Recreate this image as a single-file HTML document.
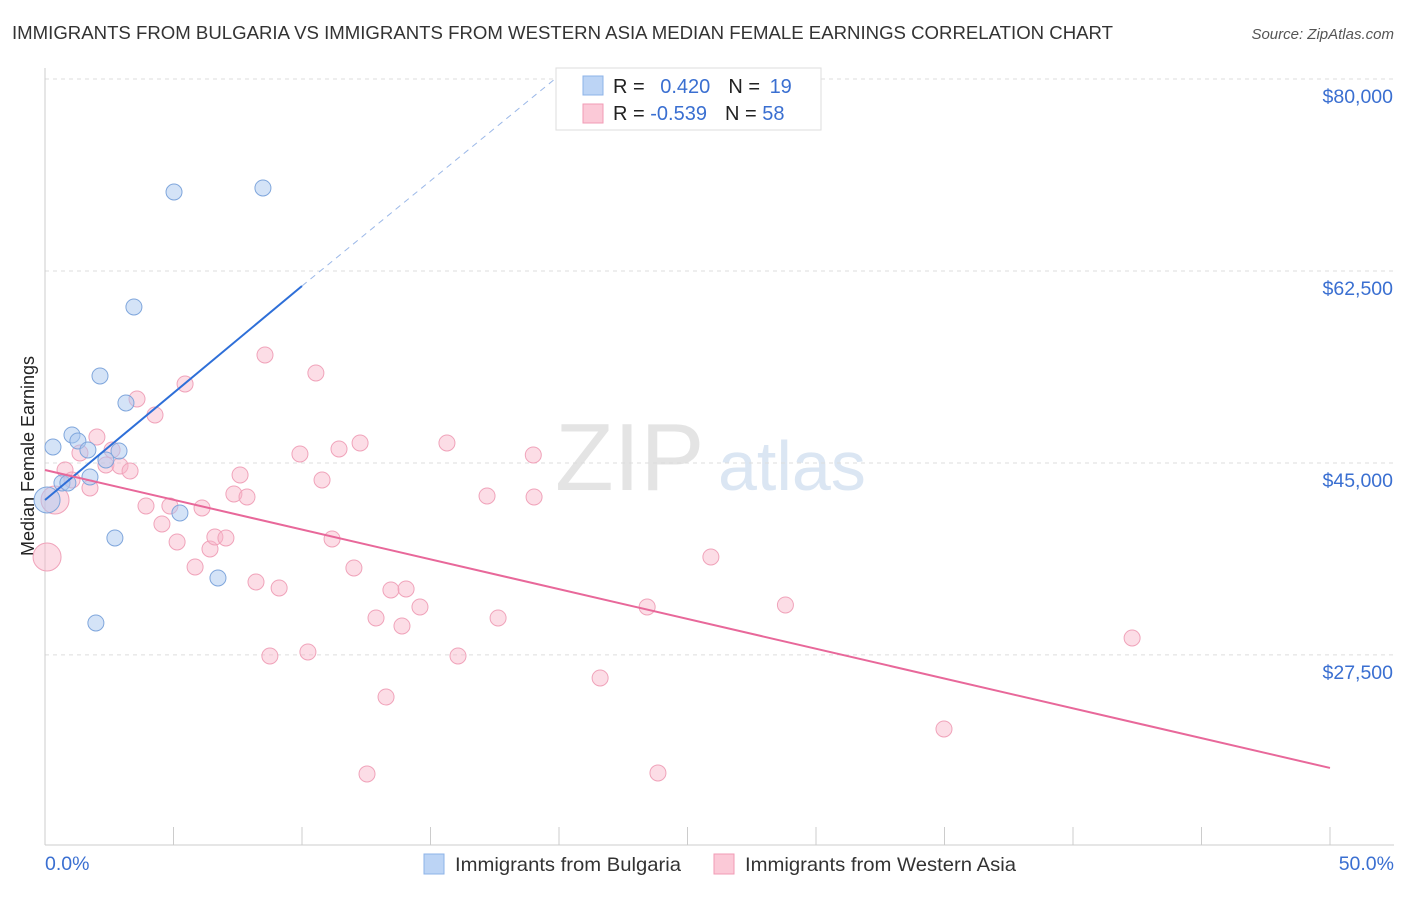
<!DOCTYPE html>
<html><head><meta charset="utf-8"><style>
body{margin:0;background:#fff;font-family:"Liberation Sans",sans-serif;}
svg text{font-family:"Liberation Sans",sans-serif;}
</style></head><body>
<svg id="chart" width="1406" height="892">
<text x="12" y="39" font-size="18.6" fill="#333" textLength="1101" lengthAdjust="spacingAndGlyphs">IMMIGRANTS FROM BULGARIA VS IMMIGRANTS FROM WESTERN ASIA MEDIAN FEMALE EARNINGS CORRELATION CHART</text>
<text x="1394" y="39" font-size="15" fill="#555" font-style="italic" text-anchor="end">Source: ZipAtlas.com</text>
<text x="0" y="0" transform="translate(34,456) rotate(-90)" font-size="18" fill="#222" text-anchor="middle">Median Female Earnings</text>
<text x="555" y="490" font-size="96" fill="#e4e4e4" font-family="Liberation Serif">ZIP</text>
<text x="718" y="490" font-size="70" fill="#dbe6f3">atlas</text>
<g id="grid"></g><g id="axes"></g><g id="pts"></g><g id="lines"></g>
<g>
<rect x="556" y="68" width="265" height="62" fill="#fff" stroke="#ddd"/>
<rect x="583" y="76" width="20" height="19" fill="#bcd4f5" stroke="#8db3e8"/>
<rect x="583" y="104" width="20" height="19" fill="#fbc9d7" stroke="#f19bb5"/>
<text x="613" y="93" font-size="20" fill="#222">R = <tspan fill="#3a6fd1" dx="10">0.420</tspan><tspan fill="#222" dx="18">N = </tspan><tspan fill="#3a6fd1" dx="4">19</tspan></text>
<text x="613" y="120" font-size="20" fill="#222">R = <tspan fill="#3a6fd1">-0.539</tspan><tspan fill="#222" dx="18">N = </tspan><tspan fill="#3a6fd1">58</tspan></text>
</g>
<g>
<rect x="424" y="854" width="20" height="20" fill="#bcd4f5" stroke="#8db3e8"/>
<text x="455" y="871" font-size="19.5" fill="#333" textLength="226" lengthAdjust="spacingAndGlyphs">Immigrants from Bulgaria</text>
<rect x="714" y="854" width="20" height="20" fill="#fbc9d7" stroke="#f19bb5"/>
<text x="745" y="871" font-size="19.5" fill="#333" textLength="271" lengthAdjust="spacingAndGlyphs">Immigrants from Western Asia</text>
</g>
</svg>
<script>
const yTicks=[80000,62500,45000,27500];
const yTickLabels=["$80,000","$62,500","$45,000","$27,500"];
const xTickLabels=["0.0%","50.0%"];
const bulgariaX=[0.31,0.08,0.66,1.05,1.28,1.67,1.75,2.14,2.37,2.88,3.15,3.46,5.02,5.25,6.73,8.48,1.98,2.72,0.89];
const bulgariaY=[46457,41626,43175,47551,47004,46183,43722,52928,45272,46092,50467,59218,69700,40441,34516,70065,30414,38162,43175];
const bulgariaR=[8,13,8,8,8,8,8,8,8,8,8,8,8,8,8,8,8,8,8];
const westAsiaX=[0.08,0.39,0.78,1.05,1.36,1.75,2.02,2.37,2.61,2.92,3.31,3.58,3.93,4.28,4.55,4.86,5.14,5.45,5.84,6.11,6.42,6.61,7.04,7.35,7.59,7.86,8.21,8.56,8.75,9.11,9.92,10.23,10.54,10.78,11.17,11.44,12.02,12.26,12.53,12.88,13.27,13.46,13.89,14.05,14.59,15.64,16.07,17.2,17.63,19.0,19.03,21.6,23.43,23.85,25.91,28.81,34.98,42.3];
const westAsiaY=[36430,41626,44360,43449,45910,42720,47368,44816,46183,44725,44269,50832,41079,49374,39438,41079,37798,52199,35519,40896,37159,38253,38162,42173,43905,41899,34152,54843,27406,33605,45819,27771,53202,43449,38071,46274,35428,46821,16651,30870,23669,33422,30141,33513,31873,46821,27406,41990,30870,45728,41899,25401,31873,16742,36430,32055,20752,29047];
const bulgariaTrend=[[0,41626],[10,61132]];
const bulgariaTrendExt=[[10,61132],[19.84,80000]];
const westAsiaTrend=[[0,44360],[50,17198]];
const NS="http://www.w3.org/2000/svg";
const xS=v=>45+v*25.7;
const yS=v=>79+(80000-v)*0.01097;
function mk(t,a,p){const e=document.createElementNS(NS,t);for(const k in a)e.setAttribute(k,a[k]);p.appendChild(e);return e;}
const grid=document.getElementById('grid'),axes=document.getElementById('axes');
yTicks.forEach((v,i)=>{
 const l=mk('line',{x1:45,x2:1394,y1:yS(v),y2:yS(v),stroke:'#ddd','stroke-dasharray':'4,4'},grid);
 
 
 const t=mk('text',{x:1393,y:yS(v)+24,'font-size':19.5,fill:'#3a6fd1','text-anchor':'end'},axes);
 t.textContent=yTickLabels[i];
 
 
});
let ax=mk('line',{x1:45,x2:45,y1:68,y2:845,stroke:'#ccc'},axes);


ax=mk('line',{x1:45,x2:1394,y1:845,y2:845,stroke:'#ccc'},axes);


for(let i=0;i<=10;i++){
 const tk=mk('line',{x1:xS(i*5),x2:xS(i*5),y1:827,y2:845,stroke:'#ccc'},axes);
 
 
}
[[0,'start',45],[50,'end',1394]].forEach((d,i)=>{
 const t=mk('text',{x:d[2],y:870,'font-size':19.5,fill:'#3a6fd1','text-anchor':d[1]},axes);
 t.textContent=xTickLabels[i];
 
 
});
const pts=document.getElementById('pts');
westAsiaX.forEach((x,i)=>{
 const big=i<2;
 const c=mk('circle',{cx:xS(x),cy:yS(westAsiaY[i]),r:big?14:8,fill:'rgba(248,180,200,0.45)',stroke:'#f0a3ba','stroke-width':1},pts);
 
 
});
bulgariaX.forEach((x,i)=>{
 const c=mk('circle',{cx:xS(x),cy:yS(bulgariaY[i]),r:bulgariaR[i],fill:'rgba(170,200,240,0.5)',stroke:'#7fa6dc','stroke-width':1},pts);
 
 
});
const lines=document.getElementById('lines');
let L=mk('line',{x1:xS(bulgariaTrend[0][0]),y1:yS(bulgariaTrend[0][1]),x2:xS(bulgariaTrend[1][0]),y2:yS(bulgariaTrend[1][1]),stroke:'#2e6fd8','stroke-width':2},lines);


L=mk('line',{x1:xS(bulgariaTrendExt[0][0]),y1:yS(bulgariaTrendExt[0][1]),x2:xS(bulgariaTrendExt[1][0]),y2:yS(bulgariaTrendExt[1][1]),stroke:'#9bb8e8','stroke-width':1,'stroke-dasharray':'6,5'},lines);


L=mk('line',{x1:xS(westAsiaTrend[0][0]),y1:yS(westAsiaTrend[0][1]),x2:xS(westAsiaTrend[1][0]),y2:yS(westAsiaTrend[1][1]),stroke:'#e8689a','stroke-width':2},lines);


</script>
</body></html>
